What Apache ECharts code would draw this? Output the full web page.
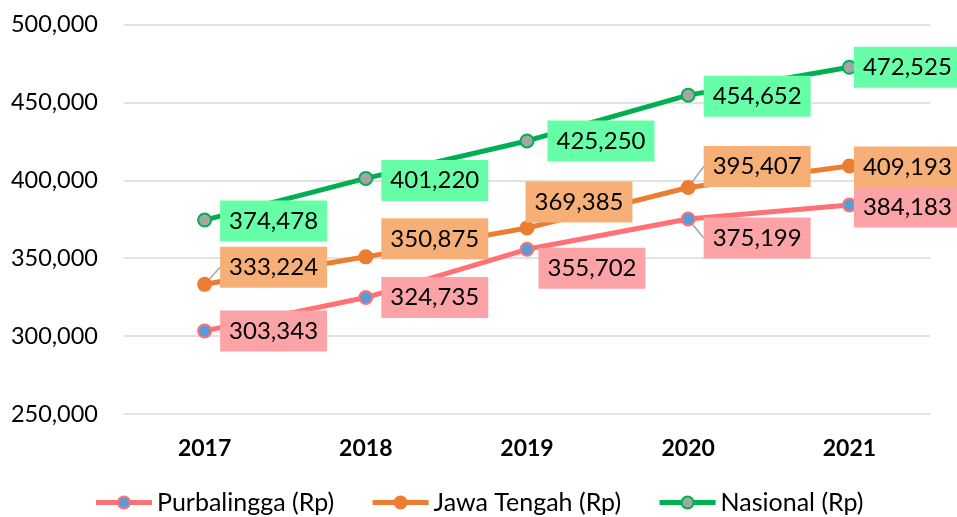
<!DOCTYPE html>
<html>
<head>
<meta charset="utf-8">
<script src="https://cdn.jsdelivr.net/npm/echarts@6/dist/echarts.min.js"></script>
<style>html,body{margin:0;padding:0;background:#fff}#c{width:957px;height:517px}</style>
</head>
<body>
<div id="c"></div>
<script>
const categories = ['2017', '2018', '2019', '2020', '2021'];
const purbalingga = [303343, 324735, 355702, 375199, 384183];
const jawaTengah = [333224, 350875, 369385, 395407, 409193];
const nasional = [374478, 401220, 425250, 454652, 472525];
const yTicks = { min: 250000, max: 500000, interval: 50000 };

const FONT = 'Lato';
// label shifts (dx, dy) relative to default right-side placement
const shiftP = [[0,0],[0,0],[-4,19],[0,19],[-11,2]];
const shiftJ = [[0,-17],[0,-18],[-17,-26],[0,-21],[-11,1]];
const shiftN = [[0,1],[0,2],[5,0],[0,1],[-11,0]];
const leadP = [false, false, false, true, false];
const leadJ = [true, false, false, true, false];
const leadN = [false, false, false, false, false];

function fmt(v){ return v.toLocaleString('en-US'); }

function mkSeries(name, data, lineColor, fill, border, labelBg, shifts, leads){
  return {
    name, type: 'line',
    data: data.map((v, i) => ({ value: v, labelLine: { show: leads[i] } })),
    symbol: 'circle', symbolSize: 13,
    lineStyle: { color: lineColor, width: 5 },
    itemStyle: { color: fill, borderColor: border, borderWidth: 2 },
    label: {
      show: true, position: 'right', distance: 8,
      formatter: p => fmt(p.value),
      fontFamily: FONT, fontSize: 24, color: '#000',
      backgroundColor: labelBg, padding: [9, 9, 8, 9]
    },
    labelLine: { show: false, lineStyle: { color: '#a6a6a6', width: 1.5 } },
    labelLayout: function(params){
      const s = shifts[params.dataIndex];
      return { dx: s[0], dy: s[1], hideOverlap: false };
    },
    emphasis: { disabled: true },
    z: 3
  };
}

const chart = echarts.init(document.getElementById('c'));
const option = {
  animation: false,
  grid: { left: 124, right: 27, top: 24.5, bottom: 103 },
  legend: {
    bottom: -3, left: 'center',
    itemWidth: 56, itemHeight: 15, itemGap: 36,
    lineStyle: { width: 5 },
    textStyle: { fontFamily: FONT, fontSize: 25, color: '#000' },
    data: ['Purbalingga (Rp)', 'Jawa Tengah (Rp)', 'Nasional (Rp)']
  },
  xAxis: {
    type: 'category', data: categories, boundaryGap: true,
    axisLine: { show: false }, axisTick: { show: false },
    axisLabel: { fontFamily: FONT, fontSize: 23, fontWeight: 'bold', color: '#000', margin: 23 }
  },
  yAxis: {
    type: 'value', min: yTicks.min, max: yTicks.max, interval: yTicks.interval,
    axisLine: { show: false }, axisTick: { show: false },
    axisLabel: { fontFamily: FONT, fontSize: 23.5, color: '#000', margin: 26, formatter: v => fmt(v) },
    splitLine: { lineStyle: { color: '#d9d9d9', width: 1.5 } }
  },
  series: [
    mkSeries('Purbalingga (Rp)', purbalingga, '#ff7175', '#5b9bd5', '#ff7175', '#fba3a6', shiftP, leadP),
    mkSeries('Jawa Tengah (Rp)', jawaTengah, '#ed7d31', '#ed7d31', '#ed7d31', '#f6b077', shiftJ, leadJ),
    mkSeries('Nasional (Rp)', nasional, '#00b050', '#a5a5a5', '#00b050', '#66ffa8', shiftN, leadN)
  ]
};
chart.setOption(option);
</script>
</body>
</html>
